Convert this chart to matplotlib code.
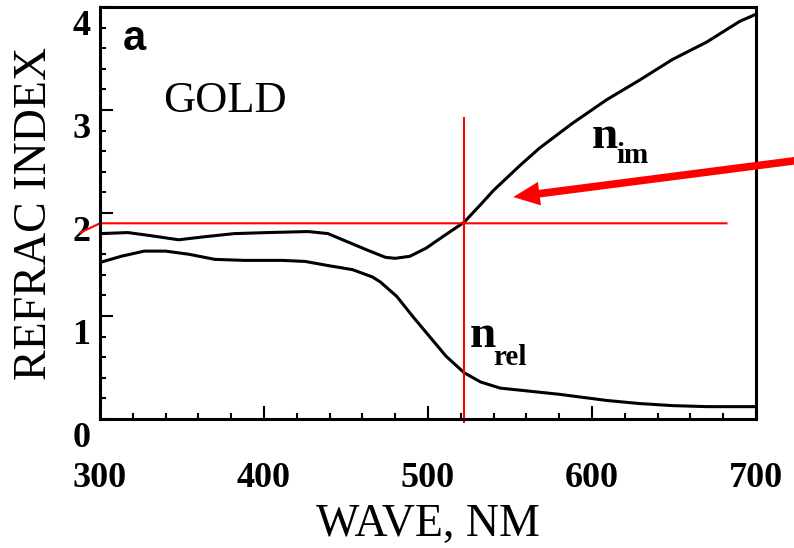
import numpy as np
import matplotlib
matplotlib.use('Agg')
import matplotlib.pyplot as plt
from matplotlib import ticker
from matplotlib.transforms import ScaledTranslation

plt.rcParams['font.family'] = ['Liberation Serif', 'DejaVu Serif']

# gold optical constants
wave_im = [300, 317, 331, 348, 364, 382, 402, 427, 439, 451, 463, 474, 480, 489,
           499, 509, 522, 532, 540, 556, 568, 588, 609, 629, 649, 670, 690, 700]
n_im = [1.80, 1.81, 1.78, 1.74, 1.77, 1.80, 1.81, 1.82, 1.80, 1.72, 1.64, 1.57, 1.56, 1.58,
        1.66, 1.77, 1.91, 2.08, 2.22, 2.46, 2.63, 2.87, 3.10, 3.29, 3.49, 3.66, 3.86, 3.93]

wave_rel = [300, 313, 327, 340, 354, 370, 388, 411, 425, 439, 454, 466, 471, 481,
            491, 501, 511, 522, 532, 544, 562, 580, 609, 629, 649, 670, 700]
n_rel = [1.52, 1.58, 1.63, 1.63, 1.60, 1.55, 1.54, 1.54, 1.53, 1.49, 1.45, 1.38, 1.33, 1.19,
         0.99, 0.80, 0.61, 0.45, 0.36, 0.30, 0.27, 0.24, 0.18, 0.15, 0.13, 0.12, 0.12]

# crosshair marking the point of interest
mark_wave = 522
mark_n = 1.90
hline_x = [288, 300, 682]
hline_y = [1.81, mark_n, mark_n]
vline_y = [-0.03, 2.92]

# pointer arrow (tail, head)
arrow_tail = (725, 2.51)
arrow_head = (552, 2.155)

xticks = [300, 400, 500, 600, 700]
yticks = [0, 1, 2, 3, 4]

fig = plt.figure(figsize=(7.94, 5.48), dpi=100)
ax = fig.add_axes([0.1259, 0.2354, 0.8262, 0.7518])

ax.plot(wave_im, n_im, color='black', linewidth=2.2, solid_joinstyle='round')
ax.plot(wave_rel, n_rel, color='black', linewidth=2.2, solid_joinstyle='round')

ax.plot(hline_x, hline_y, color='#ff0000', linewidth=1.5, clip_on=False)
ax.plot([mark_wave, mark_wave], vline_y, color='#ff0000', linewidth=1.5, clip_on=False)

ax.annotate('', xy=arrow_head, xytext=arrow_tail, annotation_clip=False,
            arrowprops=dict(facecolor='#ff0000', edgecolor='none', width=5.5,
                            headwidth=17, headlength=19, shrink=0))

ax.set_xlim(300, 700)
ax.set_ylim(0, 4)
ax.set_xticks(xticks)
ax.set_yticks(yticks)
ax.xaxis.set_minor_locator(ticker.MultipleLocator(20))
ax.yaxis.set_minor_locator(ticker.MultipleLocator(0.2))
ax.tick_params(which='both', direction='in', top=False, right=False, width=1.5)
ax.tick_params(which='major', length=9.5)
ax.tick_params(which='minor', length=4.3)
ax.tick_params(axis='x', which='major', pad=31, labelsize=26)
ax.tick_params(axis='y', which='major', pad=7, labelsize=26)
for lab in ax.get_xticklabels() + ax.get_yticklabels():
    lab.set_fontweight('bold')
for lab in ax.get_yticklabels():
    lab.set_transform(lab.get_transform() + ScaledTranslation(0, -0.15, fig.dpi_scale_trans))

for sp in ax.spines.values():
    sp.set_linewidth(2.2)

ax.set_xlabel('WAVE, NM', fontsize=33)
ax.xaxis.set_label_coords(0.5, -0.205)
ax.set_ylabel('REFRAC INDEX', fontsize=33, va='center')
ax.yaxis.set_label_coords(-0.1, 0.5)

ax.text(314, 3.58, 'a', fontsize=30, fontweight='bold', family='Liberation Sans')
ax.text(338.4, 2.98, 'GOLD', fontsize=32)

# curve labels: letter plus lowered subscript
ax.text(599.8, 2.63, 'n', fontsize=34, fontweight='bold')
ax.text(614.6, 2.483, 'im', fontsize=21, fontweight='bold')
ax.text(525.6, 0.70, 'n', fontsize=34, fontweight='bold')
ax.text(539.6, 0.524, 'rel', fontsize=21, fontweight='bold')

fig.savefig('out.png', dpi=100)
